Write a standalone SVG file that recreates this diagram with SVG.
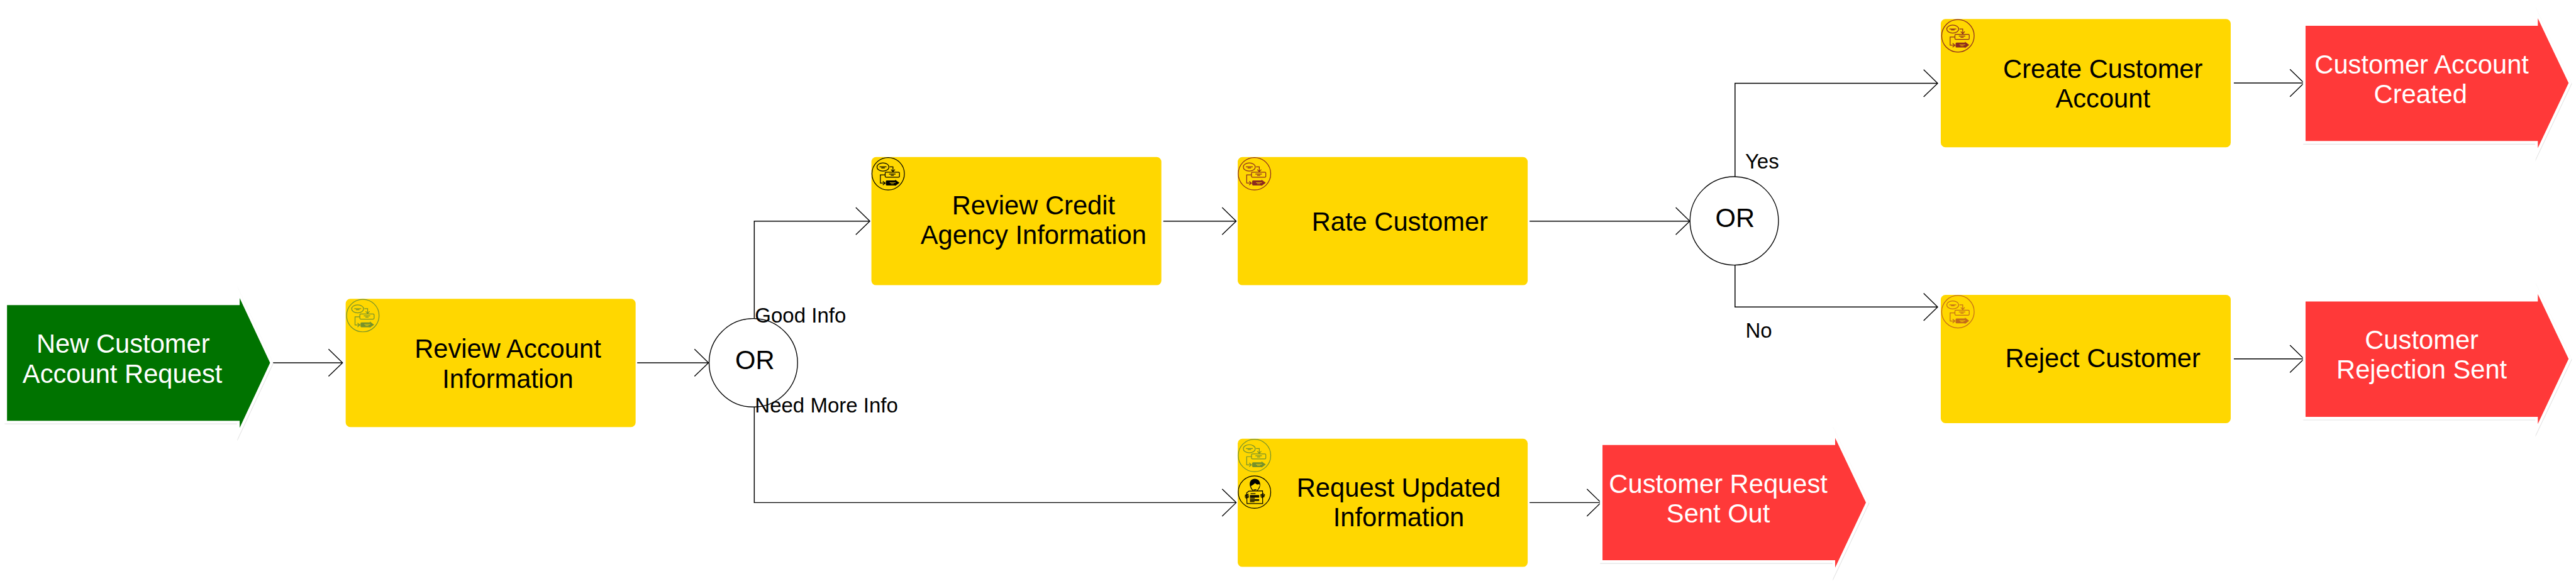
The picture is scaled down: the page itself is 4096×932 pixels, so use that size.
<svg xmlns="http://www.w3.org/2000/svg" width="4096" height="932" viewBox="0 0 4096 932">
<style>
text{font-family:"Liberation Sans",Arial,sans-serif}
.t{font-size:67.3px;fill:#000;text-anchor:middle}
.w{font-size:67.3px;fill:#fff;text-anchor:middle}
.l{font-size:53.3px;fill:#000}
.task{fill:#FFD700}
.halo{fill:#fff;stroke:#fff;stroke-width:14;stroke-linejoin:miter;stroke-miterlimit:10}
.shadow{fill:#e4e4e4;stroke:#e4e4e4;stroke-width:14;stroke-linejoin:miter;stroke-miterlimit:10}
.gw{fill:#fff;stroke:#000;stroke-width:2.2}
.c{fill:none;stroke:#000;stroke-width:2.4;marker-end:url(#open)}
.ic{fill:none;stroke:currentColor;stroke-width:6}
.icf{fill:currentColor;stroke:none}
.icy{fill:none;stroke:#FFD700;stroke-width:4}
.green{color:#76922C}.black{color:#000}.maroon{color:#8B2A20}.orange{color:#C46C1A}
</style>
<defs>
<marker id="open" markerUnits="userSpaceOnUse" markerWidth="40" markerHeight="74" refX="37" refY="36" orient="auto" overflow="visible">
<path d="M1,1 L37,36 L1,71" fill="none" stroke="#000" stroke-width="2.2"/>
</marker>
<g id="flow" transform="scale(.3333) translate(-178,-168)">
<circle class="ic" cx="178" cy="168" r="125"/>
<ellipse class="ic" cx="138" cy="116" rx="46" ry="31"/>
<path class="ic" d="M112,115H165M125,123H152" stroke-width="4"/>
<path class="ic" d="M190,115H215V152M200,135L215,152L230,135"/>
<rect class="ic" x="155" y="156" width="110" height="39" rx="7"/>
<path class="ic" d="M185,170H235M198,180H222"/>
<path class="ic" d="M155,177H118V240H152M137,225L155,240L137,255"/>
<path class="icf" d="M167,220H232V213L265,238L232,262V258H167Q160,258 160,250V228Q160,220 167,220Z"/>
<path class="icy" d="M190,236H235M198,245H222"/>
</g>
<g id="person" transform="scale(.3333) translate(-178,-460)">
<circle class="ic" cx="178" cy="460" r="125"/>
<path class="icf" d="M146,422C132,385 150,358 180,358C212,358 228,385 220,418L215,398C205,405 192,400 182,390C172,405 155,405 146,422Z"/>
<path class="ic" d="M148,418C152,432 160,444 168,450M218,415C214,430 204,444 194,450" stroke-width="5"/>
<path class="ic" d="M170,441Q181,447 192,439" stroke-width="4"/>
<path class="ic" d="M135,453L240,450L241,548L120,548L118,466Z" stroke-width="7"/>
<path class="ic" d="M148,472H186" stroke-width="4"/>
<path class="ic" d="M143,486H214M143,493H214M143,500H214M143,507H180M143,518H214M143,525H214M143,534H178" stroke-width="5"/>
<path class="ic" d="M105,484L132,476M103,492L134,484M104,500L135,492M110,507L134,500" stroke-width="5"/>
<path class="ic" d="M224,482L250,470M224,490L258,478M226,498L258,486M232,504L254,494" stroke-width="5"/>
</g>
</defs>
<g transform="scale(.61967)">
<g id="connectors">
<path class="c" d="M698,931H879"/>
<path class="c" d="M1635,931H1818"/>
<path class="c" d="M1935.500,817V567.500H2232"/>
<path class="c" d="M1935.500,1045V1290H3172"/>
<path class="c" d="M2985,567.500H3172"/>
<path class="c" d="M3925,567.500H4336"/>
<path class="c" d="M4452,453V213.700H4972"/>
<path class="c" d="M4452,681V788H4972"/>
<path class="c" d="M3925,1290H4108"/>
<path class="c" d="M5732,213H5912"/>
<path class="c" d="M5732,921H5912"/>
</g>
<g id="start">
<polygon class="shadow" transform="translate(1,2)" points="18,783 615,783 615,765 693,931 615,1098 615,1080 18,1080"/>
<polygon class="halo" points="18,783 615,783 615,765 693,931 615,1098 615,1080 18,1080"/>
<polygon fill="#007300" points="18,783 615,783 615,765 693,931 615,1098 615,1080 18,1080"/>
<text class="w" x="316" y="906">New Customer</text>
<text class="w" x="314" y="982">Account Request</text>
</g>
<g id="review-account">
<rect class="task" x="887" y="767" width="744" height="329" rx="12"/>
<use href="#flow" class="green" x="931" y="810"/>
<text class="t" x="1303" y="919">Review Account</text>
<text class="t" x="1303" y="995">Information</text>
</g>
<g id="or-1">
<circle class="gw" cx="1933" cy="931" r="113.500"/>
<text class="t" x="1937" y="948">OR</text>
</g>
<text class="l" x="1937" y="828">Good Info</text>
<text class="l" x="1937" y="1059">Need More Info</text>
<g id="review-credit">
<rect class="task" x="2236" y="403" width="744" height="329" rx="12"/>
<use href="#flow" class="black" x="2279" y="446"/>
<text class="t" x="2652" y="550">Review Credit</text>
<text class="t" x="2652" y="626">Agency Information</text>
</g>
<g id="rate-customer">
<rect class="task" x="3176" y="403" width="744" height="329" rx="12"/>
<use href="#flow" class="maroon" x="3219" y="446"/>
<text class="t" x="3592" y="592">Rate Customer</text>
</g>
<g id="request-updated">
<rect class="task" x="3176" y="1126" width="744" height="329" rx="12"/>
<use href="#flow" class="green" x="3219" y="1169"/>
<use href="#person" class="black" x="3219" y="1263"/>
<text class="t" x="3589" y="1275">Request Updated</text>
<text class="t" x="3589" y="1351">Information</text>
</g>
<g id="or-2">
<circle class="gw" cx="4450" cy="567" r="113.500"/>
<text class="t" x="4452" y="583">OR</text>
</g>
<text class="l" x="4478" y="432">Yes</text>
<text class="l" x="4479" y="867">No</text>
<g id="create-customer">
<rect class="task" x="4980" y="49" width="744" height="329" rx="12"/>
<use href="#flow" class="maroon" x="5024" y="92"/>
<text class="t" x="5396" y="200">Create Customer</text>
<text class="t" x="5396" y="276">Account</text>
</g>
<g id="reject-customer">
<rect class="task" x="4980" y="757" width="744" height="329" rx="12"/>
<use href="#flow" class="orange" x="5024" y="800"/>
<text class="t" x="5396" y="943">Reject Customer</text>
</g>
<g id="account-created">
<polygon class="shadow" transform="translate(1,2)" points="5916,66 6512,66 6512,47 6591,213 6512,380 6512,362 5916,362"/>
<polygon class="halo" points="5916,66 6512,66 6512,47 6591,213 6512,380 6512,362 5916,362"/>
<polygon fill="#FF3939" points="5916,66 6512,66 6512,47 6591,213 6512,380 6512,362 5916,362"/>
<text class="w" x="6214" y="189">Customer Account</text>
<text class="w" x="6211" y="264">Created</text>
</g>
<g id="rejection-sent">
<polygon class="shadow" transform="translate(1,2)" points="5916,774 6512,774 6512,755 6591,921 6512,1088 6512,1070 5916,1070"/>
<polygon class="halo" points="5916,774 6512,774 6512,755 6591,921 6512,1088 6512,1070 5916,1070"/>
<polygon fill="#FF3939" points="5916,774 6512,774 6512,755 6591,921 6512,1088 6512,1070 5916,1070"/>
<text class="w" x="6214" y="896">Customer</text>
<text class="w" x="6214" y="972">Rejection Sent</text>
</g>
<g id="request-sent">
<polygon class="shadow" transform="translate(1,2)" points="4112,1142 4709,1142 4709,1124 4788,1290 4709,1457 4709,1438 4112,1438"/>
<polygon class="halo" points="4112,1142 4709,1142 4709,1124 4788,1290 4709,1457 4709,1438 4112,1438"/>
<polygon fill="#FF3939" points="4112,1142 4709,1142 4709,1124 4788,1290 4709,1457 4709,1438 4112,1438"/>
<text class="w" x="4409" y="1265">Customer Request</text>
<text class="w" x="4409" y="1341">Sent Out</text>
</g>
</g>
</svg>
